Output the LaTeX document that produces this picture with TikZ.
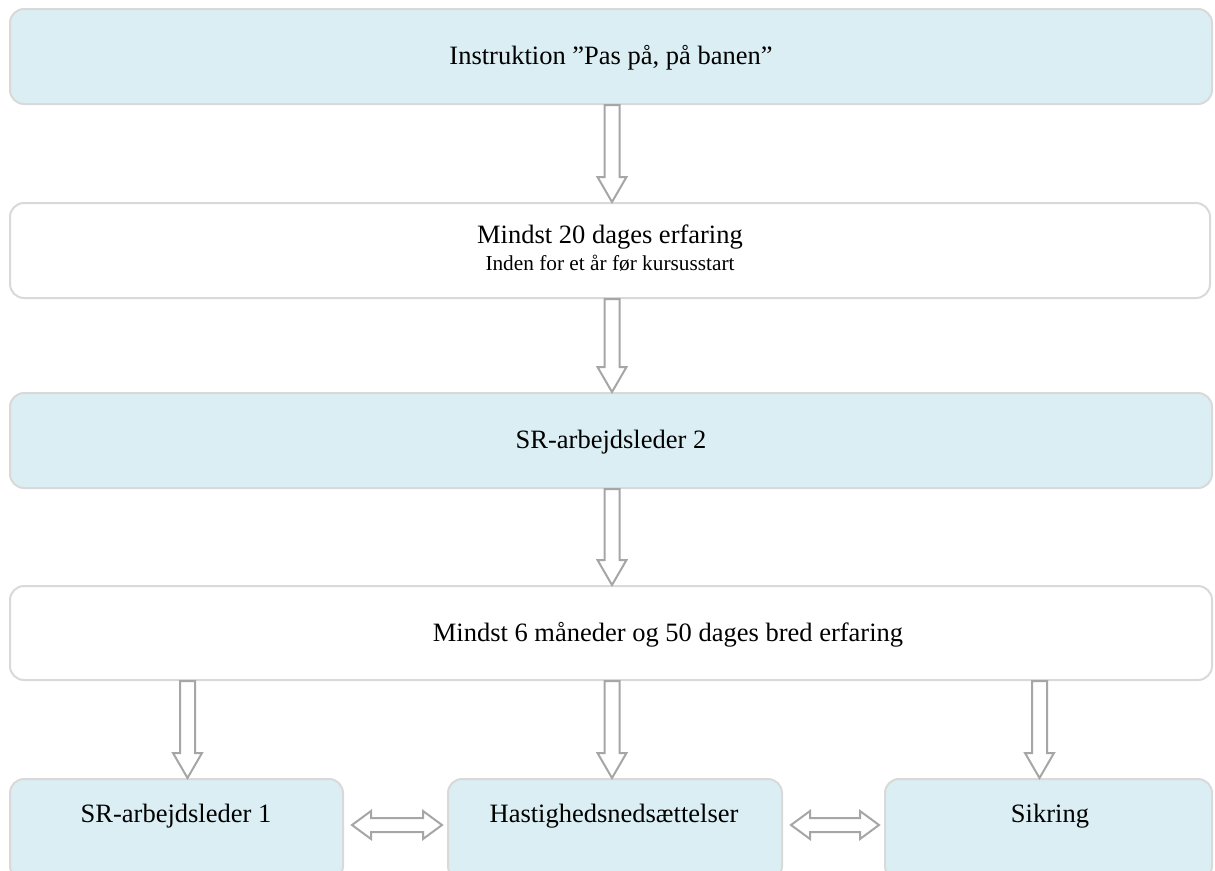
\documentclass[tikz,border=0pt]{standalone}
\usepackage{fontspec}
\setmainfont{Liberation Serif}
\usetikzlibrary{calc}
\definecolor{boxfill}{HTML}{DAEEF3}
\definecolor{boxline}{HTML}{D9D9D9}
\definecolor{arrline}{HTML}{A6A6A6}
\tikzset{
  flowbox/.style={draw=boxline, line width=2pt, rounded corners=14pt, inner sep=0pt},
  bluebox/.style={flowbox, fill=boxfill},
  whitebox/.style={flowbox, fill=white},
  boxtext/.style={font=\fontsize{26.5}{30}\selectfont, anchor=base, inner sep=0pt},
  smalltext/.style={font=\fontsize{21.3}{24}\selectfont, anchor=base, inner sep=0pt},
  blockarrow/.style={draw=arrline, fill=white, line width=2pt, line join=miter}
}
% vertical block arrow: x position, source anchor, target anchor
\newcommand{\vblockarrow}[3]{%
  \draw[blockarrow] let \p1=(#2), \p2=(#3) in
    (#1pt-7.5pt,\y1) -- (#1pt+7.5pt,\y1) -- (#1pt+7.5pt,\y2+25pt) -- (#1pt+14.5pt,\y2+25pt)
    -- (#1pt,\y2) -- (#1pt-14.5pt,\y2+25pt) -- (#1pt-7.5pt,\y2+25pt) -- cycle;}
% horizontal double block arrow: y position, left anchor, right anchor
\newcommand{\hdblockarrow}[3]{%
  \draw[blockarrow] let \p1=(#2), \p2=(#3) in
    (\x1+8pt,-#1pt) -- (\x1+27pt,-#1pt+14pt) -- (\x1+27pt,-#1pt+7pt) -- (\x2-24pt,-#1pt+7pt)
    -- (\x2-24pt,-#1pt+14pt) -- (\x2-5pt,-#1pt) -- (\x2-24pt,-#1pt-14pt) -- (\x2-24pt,-#1pt-7pt)
    -- (\x1+27pt,-#1pt-7pt) -- (\x1+27pt,-#1pt-14pt) -- cycle;}
\begin{document}
\begin{tikzpicture}[x=1pt,y=-1pt]
\useasboundingbox (0,0) rectangle (1215,870);
% boxes
\node[bluebox, minimum width=1202pt, minimum height=95pt] (b1) at (611,56.5) {};
\node[whitebox, minimum width=1200pt, minimum height=95pt] (b2) at (610,250.5) {};
\node[bluebox, minimum width=1202pt, minimum height=95pt] (b3) at (611,440.5) {};
\node[whitebox, minimum width=1202pt, minimum height=94pt] (b4) at (611,633) {};
\node[bluebox, minimum width=333pt, minimum height=101pt] (bl) at (176.5,829.5) {};
\node[bluebox, minimum width=334pt, minimum height=101pt] (bm) at (615,829.5) {};
\node[bluebox, minimum width=327pt, minimum height=101pt] (br) at (1048.5,829.5) {};
% texts
\node[boxtext] (t1) at (611,64) {Instruktion ”Pas på, på banen”};
\node[boxtext] (t2a) at (610,243) {Mindst 20 dages erfaring};
\node[smalltext] (t2b) at (610,270) {Inden for et år før kursusstart};
\node[boxtext] (t3) at (611,448) {SR-arbejdsleder 2};
\node[boxtext] (t4) at (668,641) {Mindst 6 måneder og 50 dages bred erfaring};
\node[boxtext] (tl) at (176,822) {SR-arbejdsleder 1};
\node[boxtext] (tm) at (614,822) {Hastighedsnedsættelser};
\node[boxtext] (tr) at (1050,822) {Sikring};
% arrows
\vblockarrow{612}{b1.south}{b2.north}
\vblockarrow{612}{b2.south}{b3.north}
\vblockarrow{612}{b3.south}{b4.north}
\vblockarrow{187.5}{b4.south}{bl.north}
\vblockarrow{612}{b4.south}{bm.north}
\vblockarrow{1039.5}{b4.south}{br.north}
\hdblockarrow{825}{bl.east}{bm.west}
\hdblockarrow{825}{bm.east}{br.west}
\end{tikzpicture}
\end{document}
